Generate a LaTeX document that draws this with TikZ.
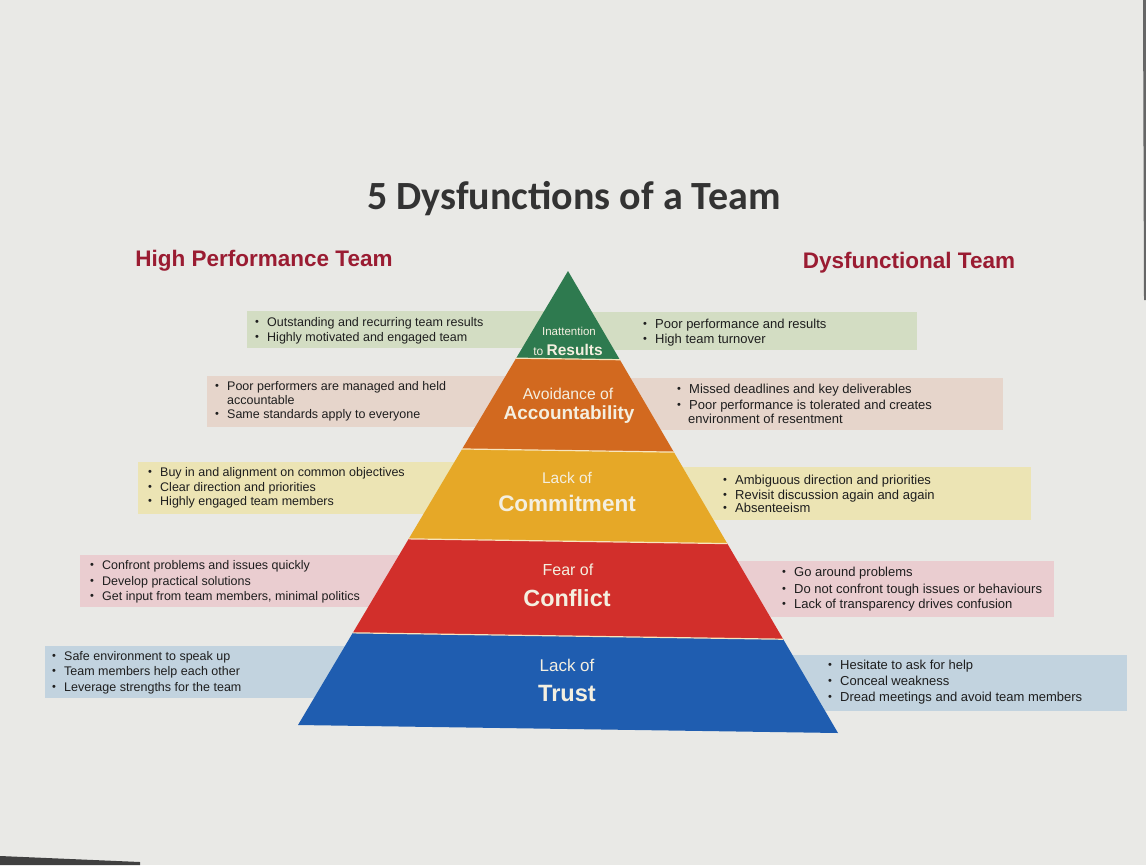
\documentclass[tikz,border=0pt]{standalone}
\usepackage{fontspec}
\setmainfont{Liberation Sans}
\newfontfamily\titlefont{Carlito}
\usetikzlibrary{calc}
\definecolor{paper}{HTML}{E9E9E6}
\definecolor{pgreen}{HTML}{2E7A4F}
\definecolor{porange}{HTML}{D2691F}
\definecolor{pyellow}{HTML}{E6A827}
\definecolor{pred}{HTML}{D22F2B}
\definecolor{pblue}{HTML}{1F5DB0}
\definecolor{bgreen}{HTML}{D3DDC3}
\definecolor{borange}{HTML}{E6D5CB}
\definecolor{byellow}{HTML}{ECE4B4}
\definecolor{bred}{HTML}{EACDD0}
\definecolor{bblue}{HTML}{C2D3DF}
\definecolor{headred}{HTML}{9A1C32}
\definecolor{titlegray}{HTML}{333333}
\definecolor{txt}{HTML}{1E1E1E}
\definecolor{ptxt}{HTML}{F4EFE0}
\newcommand\bul{\makebox[12pt][l]{\raisebox{0.5pt}{\fontsize{11}{11}\selectfont\textbullet}}}
\newcommand\bitem[4]{\node[btext] (#1) at (#2,#3) {\bul#4};}
\newcommand\bcont[4]{\node[btext] (#1) at (#2,#3) {\hspace*{12pt}#4};}
\begin{document}
\begin{tikzpicture}[x=1pt,y=-1pt,
  btext/.style={anchor=base west,inner sep=0pt,text=txt,font=\fontsize{12.5}{14}\selectfont},
  rtext/.style={btext,font=\fontsize{13}{14}\selectfont},
  ptext/.style={inner sep=0pt,text=ptxt,anchor=base},
  sep/.style={draw=white!70!pyellow,line width=1.2pt},
  head/.style={inner sep=0pt,text=headred,font=\bfseries\fontsize{22.5}{26}\selectfont,anchor=base}]
\useasboundingbox (0,0) rectangle (1146,865);
\fill[paper] (0,0) rectangle (1146,865);
\fill[black!75] (0,856) -- (140,862) -- (140,865) -- (0,865) -- cycle;
\fill[black!60] (1143,0) -- (1146,0) -- (1146,300) -- (1144,300) -- cycle;
% title and headers
\node[inner sep=0pt,text=titlegray,font=\titlefont\bfseries\fontsize{40}{46}\selectfont,anchor=base] (title) at (574,209) {5 Dysfunctions of a Team};
\node[head] (hpt) at (264,266) {High Performance Team};
\node[head] (dft) at (909,268) {Dysfunctional Team};
% side boxes
\fill[bgreen] (247,311) rectangle (568,348);
\fill[borange] (207,376) rectangle (568,427);
\fill[byellow] (138,462) rectangle (568,514);
\fill[bred] (80,555) rectangle (568,607);
\fill[bblue] (45,646) rectangle (568,698);
\fill[bgreen] (568,312) rectangle (917,350);
\fill[borange] (568,378) rectangle (1003,430);
\fill[byellow] (568,467) rectangle (1031,520);
\fill[bred] (568,561) rectangle (1054,617);
\fill[bblue] (568,655) rectangle (1127,711);
% pyramid
\coordinate (A) at (568,271);
\coordinate (BL) at (298,725);
\coordinate (BR) at (838,733);
\coordinate (L1) at ($(A)!0.192!(BL)$); \coordinate (R1) at ($(A)!0.192!(BR)$);
\coordinate (L2) at ($(A)!0.392!(BL)$); \coordinate (R2) at ($(A)!0.392!(BR)$);
\coordinate (L3) at ($(A)!0.590!(BL)$); \coordinate (R3) at ($(A)!0.590!(BR)$);
\coordinate (L4) at ($(A)!0.797!(BL)$); \coordinate (R4) at ($(A)!0.797!(BR)$);
\fill[pgreen] (A) -- (L1) -- (R1) -- cycle;
\fill[porange] (L1) -- (L2) -- (R2) -- (R1) -- cycle;
\fill[pyellow] (L2) -- (L3) -- (R3) -- (R2) -- cycle;
\fill[pred] (L3) -- (L4) -- (R4) -- (R3) -- cycle;
\fill[pblue] (L4) -- (BL) -- (BR) -- (R4) -- cycle;
\draw[sep] (L1) -- (R1);
\draw[sep] (L2) -- (R2);
\draw[sep] (L3) -- (R3);
\draw[sep] (L4) -- (R4);
% pyramid labels
\node[ptext,font=\fontsize{11.5}{12}\selectfont] (t1a) at (569,335) {Inattention};
\node[ptext] (t1b) at (568,355) {{\fontsize{12}{12}\selectfont to }{\bfseries\fontsize{15.5}{16}\selectfont Results}};
\node[ptext,font=\fontsize{15.7}{16}\selectfont] (t2a) at (568,399) {Avoidance of};
\node[ptext,font=\bfseries\fontsize{19}{20}\selectfont] (t2b) at (569,419) {Accountability};
\node[ptext,font=\fontsize{15.5}{16}\selectfont] (t3a) at (567,483) {Lack of};
\node[ptext,font=\bfseries\fontsize{22.5}{24}\selectfont] (t3b) at (567,511) {Commitment};
\node[ptext,font=\fontsize{16}{16}\selectfont] (t4a) at (568,575) {Fear of};
\node[ptext,font=\bfseries\fontsize{23.4}{24}\selectfont] (t4b) at (567,606) {Conflict};
\node[ptext,font=\fontsize{17}{17}\selectfont] (t5a) at (567,671) {Lack of};
\node[ptext,font=\bfseries\fontsize{23.6}{24}\selectfont] (t5b) at (567,701) {Trust};
% left texts
\bitem{a1}{255}{326}{Outstanding and recurring team results}
\bitem{a2}{255}{341}{Highly motivated and engaged team}
\bitem{b1}{215}{390}{Poor performers are managed and held}
\bcont{b2}{215}{404}{accountable}
\bitem{b3}{215}{418}{Same standards apply to everyone}
\bitem{c1}{148}{476}{Buy in and alignment on common objectives}
\bitem{c2}{148}{491}{Clear direction and priorities}
\bitem{c3}{148}{505}{Highly engaged team members}
\bitem{d1}{90}{569}{Confront problems and issues quickly}
\bitem{d2}{90}{585}{Develop practical solutions}
\bitem{d3}{90}{600}{Get input from team members, minimal politics}
\bitem{e1}{52}{660}{Safe environment to speak up}
\bitem{e2}{52}{675}{Team members help each other}
\bitem{e3}{52}{691}{Leverage strengths for the team}
% right texts
\tikzset{btext/.style={anchor=base west,inner sep=0pt,text=txt,font=\fontsize{13}{14}\selectfont}}
\bitem{f1}{643}{328}{Poor performance and results}
\bitem{f2}{643}{343}{High team turnover}
\bitem{g1}{677}{393}{Missed deadlines and key deliverables}
\bitem{g2}{677}{409}{Poor performance is tolerated and creates}
\bcont{g3}{676}{423}{environment of resentment}
\bitem{h1}{723}{484}{Ambiguous direction and priorities}
\bitem{h2}{723}{499}{Revisit discussion again and again}
\bitem{h3}{723}{512}{Absenteeism}
\bitem{i1}{782}{576}{Go around problems}
\bitem{i2}{782}{593}{Do not confront tough issues or behaviours}
\bitem{i3}{782}{608}{Lack of transparency drives confusion}
\bitem{j1}{828}{669}{Hesitate to ask for help}
\bitem{j2}{828}{685}{Conceal weakness}
\bitem{j3}{828}{701}{Dread meetings and avoid team members}
\end{tikzpicture}
\end{document}
